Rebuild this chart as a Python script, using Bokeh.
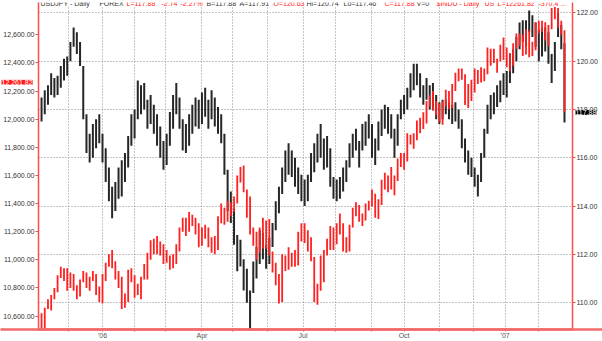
from bokeh.plotting import figure
from bokeh.models import Range1d, LinearAxis, FixedTicker, NumeralTickFormatter, Grid, Label
from bokeh.core.properties import value
from bokeh.embed import file_html
from bokeh.resources import INLINE

# ---- data: 2-trading-day bars, x = trading-day index from 7 Nov 2005 ----
bar_idx = list(range(0, 327, 2))

indu_high = [
    10620, 10660, 10720, 10750, 10800, 10890, 10950, 10940, 10940, 10910,
    10900, 10820, 10860, 10920, 10910, 10880, 10920, 10900, 10810, 10900,
    10980, 11040, 11070, 10990, 10920, 10880, 10760, 10930, 10940, 10890,
    10830, 10880, 10970, 11050, 11140, 11150, 11170, 11130, 11110, 11070,
    11030, 11040, 11110, 11230, 11300, 11300, 11340, 11320, 11300, 11260,
    11230, 11250, 11230, 11160, 11170, 11310, 11400, 11370, 11420, 11410,
    11450, 11600, 11660, 11670, 11500, 11450, 11230, 11200, 11230, 11300,
    11280, 11290, 11060, 10980, 10900, 11040, 11030, 11090, 11050, 11070,
    11200, 11260, 11260, 11210, 11160, 11020, 10830, 11030, 11070, 11150,
    11240, 11230, 11260, 11330, 11260, 11160, 11250, 11370, 11410, 11390,
    11330, 11400, 11420, 11500, 11470, 11430, 11570, 11620, 11600, 11660,
    11600, 11720, 11760, 11760, 11900, 11890, 11900, 11990, 12010, 12050,
    12130, 12170, 12200, 12130, 12110, 12130, 12210, 12200, 12250, 12330,
    12360, 12360, 12320, 12250, 12280, 12360, 12350, 12370, 12360, 12510,
    12500, 12500, 12430, 12530, 12580, 12510, 12470, 12540, 12610, 12610,
    12600, 12640, 12630, 12550, 12690, 12700, 12700, 12690, 12670, 12790,
    12800, 12790, 12700, 12632]
indu_low = [
    10500, 10510, 10650, 10640, 10720, 10770, 10870, 10850, 10780, 10800,
    10780, 10720, 10740, 10840, 10800, 10780, 10850, 10750, 10700, 10690,
    10850, 10950, 10940, 10860, 10800, 10650, 10660, 10700, 10840, 10730,
    10750, 10720, 10860, 10860, 11000, 11040, 11040, 11030, 10970, 10980,
    10930, 10940, 10970, 11060, 11200, 11170, 11200, 11240, 11180, 11090,
    11100, 11150, 11090, 11050, 11040, 11070, 11260, 11250, 11270, 11310,
    11340, 11400, 11550, 11480, 11300, 11180, 11100, 11000, 11050, 11080,
    11080, 11030, 10910, 10820, 10690, 10700, 10920, 10930, 10950, 10950,
    10960, 11130, 11120, 11060, 10990, 10700, 10680, 10780, 10840, 11030,
    11070, 11070, 11110, 11180, 11060, 11050, 11060, 11230, 11310, 11270,
    11240, 11280, 11350, 11380, 11300, 11290, 11390, 11500, 11480, 11500,
    11460, 11560, 11660, 11640, 11700, 11820, 11790, 11850, 11900, 11930,
    11970, 12090, 12060, 12030, 11980, 11960, 12090, 12070, 12080, 12200,
    12270, 12280, 12100, 12080, 12130, 12190, 12250, 12260, 12270, 12320,
    12380, 12400, 12330, 12410, 12420, 12370, 12340, 12380, 12500, 12520,
    12450, 12460, 12440, 12450, 12490, 12610, 12620, 12560, 12520, 12640,
    12710, 12650, 12600, 12050]

jpy_high = [
    118.5, 118.8, 119.0, 119.5, 119.3, 119.4, 119.8, 120.1, 120.2, 120.8,
    121.4, 121.2, 120.8, 119.8, 117.8, 117.0, 117.4, 117.6, 117.8, 117.0,
    116.4, 115.6, 114.8, 115.0, 115.6, 115.9, 116.2, 116.9, 117.8, 118.0,
    119.2, 119.0, 119.1, 118.4, 118.6, 118.2, 117.8, 117.3, 116.7, 117.0,
    117.9, 118.6, 119.1, 118.5, 117.6, 117.4, 117.8, 118.2, 118.5, 118.4,
    118.7, 118.9, 118.4, 118.8, 118.5, 118.1, 117.8, 117.0, 115.5, 114.6,
    113.9, 112.8, 112.6, 111.8, 111.4, 110.5, 111.7, 112.3, 113.0, 112.9,
    112.4, 112.7, 113.3, 114.2, 114.8, 115.6, 116.3, 116.6, 116.3, 116.0,
    115.6, 115.3, 115.1, 115.3, 116.2, 116.6, 117.0, 117.4, 116.8, 116.9,
    116.4, 115.2, 115.1, 115.2, 115.6, 115.9, 116.6, 117.0, 117.2, 116.7,
    117.4, 117.5, 117.8, 117.4, 116.8, 117.5, 118.0, 118.2, 118.1, 117.8,
    117.2, 117.8, 118.4, 118.6, 118.9, 119.5, 119.9, 119.9, 119.5, 119.0,
    119.3, 119.0, 119.1, 118.6, 118.3, 118.4, 118.4, 118.3, 118.2, 118.3,
    118.0, 117.6, 116.8, 116.3, 116.0, 115.6, 115.3, 116.2, 117.2, 118.2,
    118.6, 118.7, 119.0, 119.2, 119.5, 119.6, 120.3, 120.5, 121.0, 121.6,
    121.7, 121.7, 122.1, 121.9, 121.6, 121.3, 121.4, 121.4, 121.2, 120.3,
    120.8, 122.0, 121.5, 120.74]
jpy_low = [
    117.5, 117.8, 118.2, 118.6, 118.5, 118.6, 118.9, 119.2, 119.4, 120.0,
    120.6, 120.3, 119.8, 117.6, 116.2, 115.8, 116.0, 116.4, 116.6, 115.8,
    115.0, 114.2, 113.5, 113.8, 114.3, 114.4, 115.0, 115.6, 116.5, 116.8,
    117.6, 117.8, 118.0, 117.2, 117.4, 117.0, 116.5, 116.0, 115.5, 115.7,
    116.5, 117.2, 117.8, 117.2, 116.3, 116.2, 116.5, 117.0, 117.3, 117.2,
    117.4, 117.7, 117.2, 117.6, 117.3, 117.0, 116.6, 115.3, 113.8, 113.3,
    112.4, 111.3, 111.5, 110.5, 110.0, 108.9, 110.4, 111.0, 111.6, 111.8,
    111.4, 111.6, 112.3, 113.0, 113.7, 114.5, 115.0, 115.3, 115.2, 114.8,
    114.5, 114.2, 114.0, 114.2, 115.0, 115.4, 115.8, 116.0, 115.5, 115.6,
    114.8, 114.3, 114.2, 114.3, 114.6, 115.0, 115.6, 116.0, 116.3, 115.6,
    116.3, 116.5, 116.8, 116.0, 115.7, 116.3, 116.9, 117.2, 117.0, 116.8,
    116.0, 116.5, 117.6, 117.8, 118.0, 118.5, 118.8, 119.0, 118.5, 118.2,
    118.4, 118.0, 118.0, 117.6, 117.4, 117.6, 117.8, 117.6, 117.4, 117.5,
    117.2, 116.4, 115.8, 115.3, 115.2, 114.8, 114.4, 115.0, 116.0, 117.0,
    117.6, 117.8, 118.1, 118.3, 118.6, 118.5, 119.1, 119.5, 120.0, 120.5,
    120.8, 120.6, 121.2, 121.0, 120.6, 120.0, 120.2, 120.4, 119.9, 119.1,
    119.6, 121.0, 120.5, 117.46]

indu_last = 12261.82
jpy_last = 117.88

month_idx = [17, 38, 58, 77, 100, 119, 141, 163, 183, 206, 226, 248, 269, 289, 310]
month_lbl = ["", "'06", "", "", "Apr", "", "", "Jul", "", "", "Oct", "", "", "'07", ""]
indu_ticks = [10600, 10800, 11000, 11200, 11400, 11600, 11800, 12000, 12200, 12400, 12600]
jpy_ticks = [110, 112, 114, 116, 118, 120, 122]

header = [
    ("USDJPY - Daily", "#333333"), ("FOREX", "#333333"),
    ("L=117.88", "#ff2020"), ("-2.74", "#ff2020"), ("-2.27%", "#ff2020"),
    ("B=117.88", "#333333"), ("A=117.91", "#333333"), ("O=120.63", "#ff2020"),
    ("Hi=120.74", "#333333"), ("Lo=117.46", "#333333"), ("C=117.88", "#ff2020"),
    ("V=0", "#333333"), ("$INDU - Daily", "#ff2020"), ("US", "#ff2020"),
    ("L=12261.82", "#ff2020"), ("-370.4 ...", "#ff2020"),
]

# ---- layout constants (canvas px) ----
W, H = 602, 341
FL, FR, FT, FB = 38, 572, 2, 331
X0, X1 = -1.9, 331.0
hdr_x = [40, 99, 126, 161, 180, 206, 239, 273, 306, 343, 384, 416, 436, 484, 497, 538]
FONT = "Liberation Sans"
AXRED = "#ff4a4a"

# INDU: canvas y = 119.4 - (v - 12000) * 0.1415 ; JPY: y = 12.5 + (122 - v) * 24.29
indu_rng = Range1d(12000 - (FB - 119.4) / 0.1415, 12000 + (119.4 - FT) / 0.1415)
jpy_rng = Range1d(122 - (FB - 12.5) / 24.29, 122 + (12.5 - FT) / 24.29)

p = figure(width=W, height=H, output_backend="svg", toolbar_location=None,
           x_range=Range1d(X0, X1), y_range=indu_rng,
           min_border_left=FL, min_border_right=W - FR,
           min_border_top=FT, min_border_bottom=H - FB,
           background_fill_color="white", border_fill_color="white")
p.outline_line_color = None
p.extra_y_ranges = {"jpy": jpy_rng}

# grids
p.xgrid[0].ticker = FixedTicker(ticks=month_idx)
p.xgrid[0].grid_line_color = "#8c8c8c"
p.xgrid[0].grid_line_dash = "1 2"
p.ygrid[0].visible = False
p.add_layout(Grid(dimension=1, ticker=FixedTicker(ticks=jpy_ticks), y_range_name="jpy",
                  grid_line_color="#8c8c8c", grid_line_dash="1 2"))

# bars
p.segment(x0=bar_idx, y0=jpy_low, x1=bar_idx, y1=jpy_high, y_range_name="jpy",
          line_color="#262626", line_width=2.0)
p.segment(x0=bar_idx, y0=indu_low, x1=bar_idx, y1=indu_high,
          line_color="#ff2020", line_width=1.8)

# axes styling
def style_axis(ax):
    ax.axis_line_color = AXRED
    ax.axis_line_width = 1.5
    ax.major_tick_line_color = AXRED
    ax.major_tick_in = 0
    ax.major_tick_out = 3
    ax.minor_tick_line_color = None
    ax.major_label_text_font = FONT
    ax.major_label_text_font_size = "7px"
    ax.major_label_text_color = "#333333"
    ax.major_label_standoff = 1

ya = p.yaxis[0]
ya.ticker = FixedTicker(ticks=indu_ticks)
ya.formatter = NumeralTickFormatter(format="0,0.00")
style_axis(ya)

ra = LinearAxis(y_range_name="jpy", ticker=FixedTicker(ticks=jpy_ticks),
                formatter=NumeralTickFormatter(format="0.00"))
style_axis(ra)
p.add_layout(ra, "right")

xa = p.xaxis[0]
xa.ticker = FixedTicker(ticks=month_idx)
xa.major_label_overrides = {m: l for m, l in zip(month_idx, month_lbl)}
style_axis(xa)
xa.axis_line_color = "#f26b6b"
xa.axis_line_width = 2.5
xa.major_label_standoff = 0
xa.major_tick_out = 2
xa.major_label_text_color = "#555555"

# bottom axis line continues to both canvas edges
sx = (FR - FL) / (X1 - X0)
p.segment(x0=[X0 - FL / sx], y0=[indu_rng.start], x1=[X1 + (W - FR) / sx], y1=[indu_rng.start],
          line_color="#f26b6b", line_width=2.5, level="overlay")

# header texts (frame-relative screen coords)
for cx, (t, c) in zip(hdr_x, header):
    p.add_layout(Label(x=cx - FL, y=FB - 5, x_units="screen", y_units="screen",
                       text=t, text_color=c, text_font=FONT, text_font_size="7px",
                       text_baseline="middle", text_align="left",
                       background_fill_color="white"))

# last-value tags (drawn at overlay level so they may sit in the axis margins)
p.text(x=[X0], y=[indu_last], text=[f"{indu_last:,.2f}"], x_offset=-FL + 1,
       text_color="white", text_font=value(FONT), text_font_size=value("7px"),
       text_baseline="middle", text_align="left",
       background_fill_color="#ff1a1a", level="overlay")
p.text(x=[X1], y=[jpy_last], text=[f"{jpy_last:.2f}"], x_offset=3, y_range_name="jpy",
       text_color="white", text_font=value(FONT), text_font_size=value("7px"),
       text_baseline="middle", text_align="left",
       background_fill_color="#000000", level="overlay")

open("out.html", "w").write(file_html(p, INLINE))
